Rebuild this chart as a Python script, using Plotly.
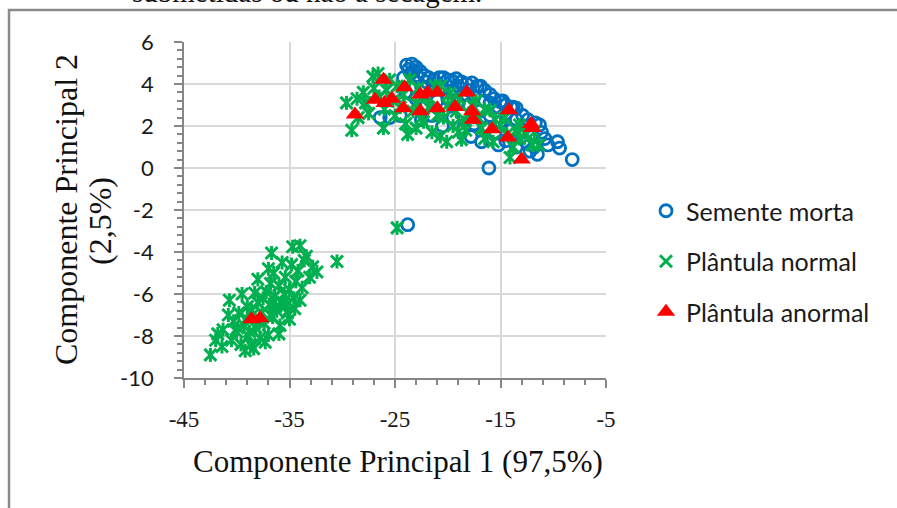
import plotly.graph_objects as go

# Componente Principal 1 / 2 scores per seed class
morta_x = [-23.9, -23.4, -23.0, -22.6, -23.5, -22.2, -21.8, -21.3, -20.8, -20.4, -20.0, -19.6,
           -19.2, -18.7, -18.2, -17.7, -17.2, -16.9, -16.5, -16.0, -15.6, -15.0, -14.5, -14.0,
           -13.5, -12.9, -12.4, -11.7, -11.3, -11.1, -10.5, -9.6, -9.4, -8.2, -11.5, -16.8,
           -16.1, -23.8, -22.5, -21.5, -20.5, -19.5, -18.5, -17.5, -16.5, -15.5, -14.5, -13.5,
           -12.5, -12.0, -13.0, -14.0, -15.0, -16.0, -17.0, -18.0, -19.0, -20.0, -21.0, -22.0,
           -23.0, -24.0, -24.5, -25.5, -26.4, -21.5, -19.5, -17.5, -15.5, -14.5, -13.5, -12.5,
           -11.8, -18.5, -20.5, -22.5, -16.5, -17.8, -15.2, -10.8, -12.2, -13.8, -14.8, -19.0,
           -20.8, -22.0, -18.0, -16.0, -23.7, -23.2, -22.9, -24.2]
morta_y = [4.9, 4.95, 4.8, 4.6, 4.5, 4.4, 4.3, 4.2, 4.3, 4.3, 4.2, 4.15,
           4.25, 4.1, 4.0, 4.05, 3.9, 3.9, 3.7, 3.5, 3.3, 3.15, 3.0, 2.9,
           2.85, 2.5, 2.3, 2.15, 2.05, 1.7, 1.1, 1.25, 0.95, 0.4, 0.65, 1.25,
           0.0, -2.7, 3.9, 3.7, 3.8, 3.6, 3.5, 3.4, 3.2, 2.9, 2.6, 2.3,
           2.0, 1.6, 1.5, 1.8, 2.2, 2.5, 2.7, 3.0, 3.1, 3.3, 3.2, 3.0,
           3.3, 3.6, 2.5, 2.4, 2.4, 2.5, 2.4, 2.1, 1.7, 1.3, 1.0, 1.2,
           1.0, 1.9, 2.0, 2.3, 1.9, 1.5, 1.1, 1.4, 0.8, 2.9, 3.2, 3.9,
           3.8, 4.1, 3.7, 3.1, 4.7, 4.65, 4.4, 4.3]

normal_x = [-29.6, -29.1, -28.6, -28.0, -27.8, -27.1, -26.6, -27.0, -26.5, -26.1, -26.0, -25.8,
            -25.5, -25.2, -25.0, -24.8, -24.5, -24.2, -24.0, -23.8, -23.6, -23.3, -23.0, -22.8,
            -22.5, -22.3, -22.0, -21.8, -21.5, -21.2, -21.0, -20.7, -20.7, -20.4, -20.1, -20.0,
            -19.8, -19.5, -19.2, -18.9, -18.7, -18.6, -18.3, -18.0, -17.7, -17.3, -17.1, -16.8,
            -16.5, -16.0, -15.7, -15.5, -15.0, -14.6, -14.4, -14.1, -13.8, -13.5, -13.2, -13.2,
            -12.6, -12.0, -11.4, -11.8, -24.8, -27.5, -28.5, -23.0, -19.0, -16.5,
            -42.5, -41.4, -41.3, -40.7, -40.5, -40.3, -40.0, -39.8, -39.6, -39.3, -39.0, -38.9,
            -38.7, -38.5, -38.3, -38.2, -38.0, -37.8, -37.6, -37.4, -37.2, -37.0, -36.9, -36.8,
            -36.7, -36.6, -36.4, -36.2, -36.0, -35.9, -35.7, -35.6, -35.4, -35.2, -35.0, -34.8,
            -34.7, -34.6, -34.4, -34.2, -34.0, -34.0, -33.8, -33.6, -33.4, -33.1, -32.8, -32.4,
            -30.5, -39.5, -38.0, -37.0, -36.5, -40.8, -39.2, -38.4, -37.3, -36.0, -35.0, -34.5,
            -42.0, -41.8, -39.0, -38.6, -37.9, -37.5, -36.3, -35.5, -39.9, -38.8, -36.8, -35.3]
normal_y = [3.1, 1.8, 3.3, 3.6, 3.1, 4.35, 4.5, 3.8, 3.4, 1.9, 2.8, 3.7,
            4.2, 3.2, 2.5, 3.9, 2.9, 3.5, 2.1, 1.6, 4.2, 2.7, 3.1, 3.8,
            2.4, 2.2, 3.4, 2.9, 1.7, 3.9, 2.5, 1.5, 3.9, 2.4, 1.25, 3.0,
            3.55, 2.0, 2.7, 3.3, 1.35, 2.15, 1.8, 2.6, 3.0, 3.2, 2.4, 1.9,
            2.8, 2.75, 1.25, 2.3, 2.05, 2.4, 1.6, 0.5, 1.0, 1.8, 1.4, 2.05,
            1.6, 1.1, 1.1, 1.7, -2.85, 2.6, 2.4, 1.9, 1.7, 1.4,
            -8.9, -8.5, -7.7, -6.3, -8.2, -7.3, -7.8, -6.9, -8.4, -7.5, -6.6, -8.0,
            -8.4, -7.0, -5.95, -7.6, -6.4, -8.1, -6.9, -7.4, -5.9, -7.95, -6.5, -5.5,
            -4.05, -7.1, -6.1, -6.8, -5.6, -7.5, -4.5, -6.4, -5.2, -6.9, -5.8, -4.6,
            -3.75, -6.2, -5.4, -4.9, -3.7, -6.3, -5.7, -4.4, -4.2, -5.2, -4.7, -4.95,
            -4.45, -6.0, -5.3, -4.8, -5.0, -7.0, -8.7, -8.6, -8.3, -7.9, -7.2, -6.7,
            -8.2, -7.9, -7.2, -6.8, -7.3, -6.2, -6.6, -6.0, -7.6, -7.8, -7.0, -6.5]

anormal_x = [-26.1, -28.8, -26.9, -26.0, -25.3, -24.1, -24.2, -22.6, -22.6, -21.9, -21.0, -21.0,
             -19.3, -18.2, -17.7, -17.6, -14.2, -15.8, -14.3, -12.0, -12.1, -13.0, -38.6, -37.8]
anormal_y = [4.2, 2.55, 3.25, 3.1, 3.3, 3.85, 2.85, 3.5, 2.7, 3.6, 3.6, 2.85,
             2.9, 3.6, 2.7, 2.3, 2.75, 1.85, 1.45, 1.9, 2.1, 0.4, -7.2, -7.15]

series_names = ["Semente morta", "Plântula normal", "Plântula anormal"]
x_ticks = [-45, -35, -25, -15, -5]
y_ticks = [6, 4, 2, 0, -2, -4, -6, -8, -10]

BLUE = "#0070C0"
GREEN = "#00B050"
RED = "#FF0000"
AXIS = "#868686"
GRID = "#D9D9D9"

fig = go.Figure()
fig.add_trace(go.Scatter(
    x=morta_x, y=morta_y, mode="markers", name=series_names[0], legendgroup="a",
    marker=dict(symbol="circle-open", size=12, color=BLUE, line=dict(width=2.8, color=BLUE))))
# six-armed star: an X with a vertical stroke through it
fig.add_trace(go.Scatter(
    x=normal_x, y=normal_y, mode="markers", name=series_names[1], legendgroup="b",
    marker=dict(symbol="x-thin-open", size=12, color=GREEN, line=dict(width=3, color=GREEN))))
fig.add_trace(go.Scatter(
    x=normal_x, y=normal_y, mode="markers", name=series_names[1], legendgroup="b",
    showlegend=False, hoverinfo="skip",
    marker=dict(symbol="line-ns-open", size=10, color=GREEN, line=dict(width=3, color=GREEN))))
fig.add_trace(go.Scatter(
    x=anormal_x, y=anormal_y, mode="markers", name=series_names[2], legendgroup="c",
    marker=dict(symbol="triangle-up", size=16, color=RED, line=dict(width=0))))

L, R, T, B = 184, 291, 42, 130
W, H = 897, 508
pw, ph = W - L - R, H - T - B


def px(xp):
    return (xp - L) / pw


def py(yp):
    return (H - B - yp) / ph


fig.update_layout(
    width=W, height=H,
    margin=dict(l=L, r=R, t=T, b=B, pad=0),
    paper_bgcolor="white", plot_bgcolor="white",
    showlegend=True,
    legend=dict(x=px(646), y=py(188), xanchor="left", yanchor="top",
                traceorder="grouped", tracegroupgap=15,
                font=dict(family="Lato", size=25, color="#1a1a1a"),
                bgcolor="rgba(0,0,0,0)", itemsizing="trace"),
    xaxis=dict(range=[-45, -5], tickvals=x_ticks, ticktext=[str(v) for v in x_ticks],
               showgrid=True, gridcolor=GRID, gridwidth=1.5,
               showline=True, linecolor=AXIS, linewidth=1.8,
               ticks="outside", ticklen=8, tickwidth=1.8, tickcolor=AXIS,
               ticklabelstandoff=11,
               minor=dict(dtick=2, tick0=-45, ticks="outside", ticklen=5, tickwidth=1.8,
                          tickcolor=AXIS, showgrid=False),
               tickfont=dict(family="Liberation Serif", size=23, color="#1a1a1a"),
               zeroline=False),
    yaxis=dict(range=[-10, 6], tickvals=y_ticks, ticktext=[str(v) for v in y_ticks],
               showgrid=True, gridcolor=GRID, gridwidth=1.5,
               showline=True, linecolor=AXIS, linewidth=1.8,
               ticks="outside", ticklen=8, tickwidth=1.8, tickcolor=AXIS,
               ticklabelstandoff=16,
               minor=dict(dtick=0.4, tick0=-10, ticks="outside", ticklen=5, tickwidth=1.8,
                          tickcolor=AXIS, showgrid=False),
               tickfont=dict(family="Lato", size=22, color="#1a1a1a"),
               zeroline=False),
)

# page frame around the figure
fig.add_shape(type="rect", xref="paper", yref="paper",
              x0=px(9), x1=px(920), y0=py(10), y1=py(540),
              line=dict(color="#8a8a8a", width=2.5), fillcolor="rgba(0,0,0,0)")

serif = "Liberation Serif"
fig.add_annotation(text="submetidas ou não à secagem.", xref="paper", yref="paper",
                   x=px(307), y=py(-8), xanchor="center", yanchor="middle", showarrow=False,
                   font=dict(family=serif, size=29, color="#111"))
fig.add_annotation(text="Componente Principal 1 (97,5%)", xref="paper", yref="paper",
                   x=px(398), y=py(461), xanchor="center", yanchor="middle", showarrow=False,
                   font=dict(family=serif, size=31, color="#111"))
fig.add_annotation(text="Componente Principal 2", xref="paper", yref="paper",
                   x=px(66), y=py(210), xanchor="center", yanchor="middle", showarrow=False,
                   textangle=-90, font=dict(family=serif, size=32, color="#111"))
fig.add_annotation(text="(2,5%)", xref="paper", yref="paper",
                   x=px(100), y=py(221), xanchor="center", yanchor="middle", showarrow=False,
                   textangle=-90, font=dict(family=serif, size=32, color="#111"))

fig.write_html("out.html")
